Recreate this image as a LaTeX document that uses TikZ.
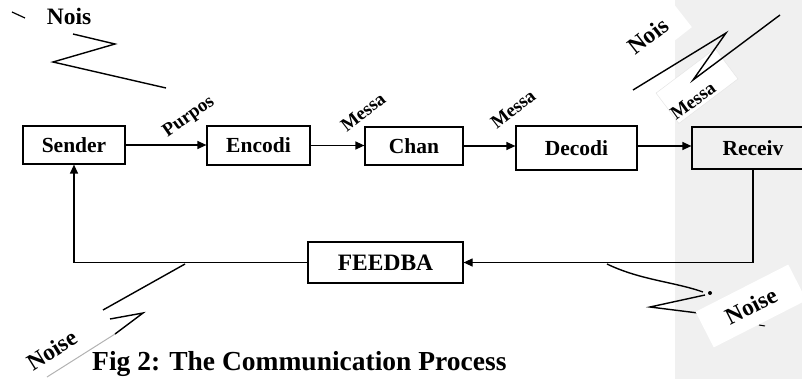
\documentclass[tikz,border=0pt]{standalone}
\usepackage{fontspec}
\setmainfont{Liberation Serif}
\usetikzlibrary{arrows.meta}
\begin{document}
\begin{tikzpicture}[x=1pt,y=-1pt,
  box/.style={draw,line width=1.2pt,inner sep=0pt,font=\bfseries\fontsize{21.5}{24}\selectfont},
  arr/.style={line width=1.2pt,-{Triangle[length=9pt,width=8pt]}},
  zig/.style={line width=1.4pt,line join=miter},
  lbl/.style={font=\bfseries\fontsize{19}{22}\selectfont,inner sep=0pt},
  noiselbl/.style={font=\bfseries\fontsize{23.5}{26}\selectfont,inner sep=0pt}]
\useasboundingbox (0,0) rectangle (802,379);
\clip (0,0) rectangle (802,379);
\fill[gray!12] (675,0) rectangle (802,379);
% white patches
\node[noiselbl, fill=white, rotate=38, minimum width=80pt, minimum height=40pt] (nois2) at (648,36) {Nois};
\node[draw=gray!20, line width=0.5pt, fill=white, rotate=37, minimum width=74pt, minimum height=38pt] (mbox) at (697,86) {};
% boxes
\node[box,minimum width=102pt,minimum height=38pt] (sender) at (74,145) {Sender};
\node[box,minimum width=103pt,minimum height=39pt] (encodi) at (258.5,145.5) {Encodi};
\node[box,minimum width=98pt,minimum height=38pt] (chan) at (414,146) {Chan};
\node[box,minimum width=121pt,minimum height=44pt] (decodi) at (576.5,148) {Decodi};
\node[box,minimum width=122pt,minimum height=42pt] (receiv) at (753,148) {Receiv};
\node[box,minimum width=155pt,minimum height=41pt,font=\bfseries\fontsize{23.5}{26}\selectfont] (feedba) at (385.5,262.5) {FEEDBA};
% arrows
\draw[arr] (sender.east) -- (sender.east -| encodi.west);
\draw[arr] (encodi.east) -- (encodi.east -| chan.west);
\draw[arr] (chan.east) -- (chan.east -| decodi.west);
\draw[arr] (decodi.east |- chan.east) -- (receiv.west |- chan.east);
\draw[arr] (receiv.south) |- (feedba.east);
\draw[arr] (feedba.west) -| (sender.south);
% arrow labels
\node[lbl,rotate=35] (purpos) at (189,117) {Purpos};
\node[lbl,rotate=38] (messa1) at (363,112) {Messa};
\node[lbl,rotate=38] (messa2) at (513,109) {Messa};
\node[lbl,rotate=36] (messa3) at (693,101) {Messa};
% noise top-left
\node[noiselbl] (nois1) at (69,16) {Nois};
\draw[line width=1.2pt] (12,12) -- (25,18);
\draw[zig] (73,34) -- (115,44) -- (53,62) -- (166,88);
% noise top-right
\draw[zig] (633,90) -- (726,33) -- (693,80) -- (780,15);
% noise bottom-left
\draw[zig] (185,264) -- (103,310);
\draw[zig] (110,319) -- (143,313) -- (115,334);
\draw[gray!60, line width=1pt] (115,334) -- (47,377);
\node[noiselbl, rotate=32] (noise1) at (52,350) {Noise};
% noise bottom-right
\draw[zig] (607,264) .. controls (640,280) and (675,282) .. (703,292);
\fill (710,293) circle (2pt);
\draw[zig] (705,295) -- (650,307) -- (698,313);
\node[noiselbl, fill=white, rotate=27, minimum width=104pt, minimum height=40pt] (noise2) at (751,306) {Noise};
\draw[line width=1pt] (759,325) -- (765,326);
% caption
\node[anchor=base west, inner sep=0pt, font=\bfseries\fontsize{27.5}{30}\selectfont] (cap) at (92,370) {Fig 2: The Communication Process};
\end{tikzpicture}
\end{document}
